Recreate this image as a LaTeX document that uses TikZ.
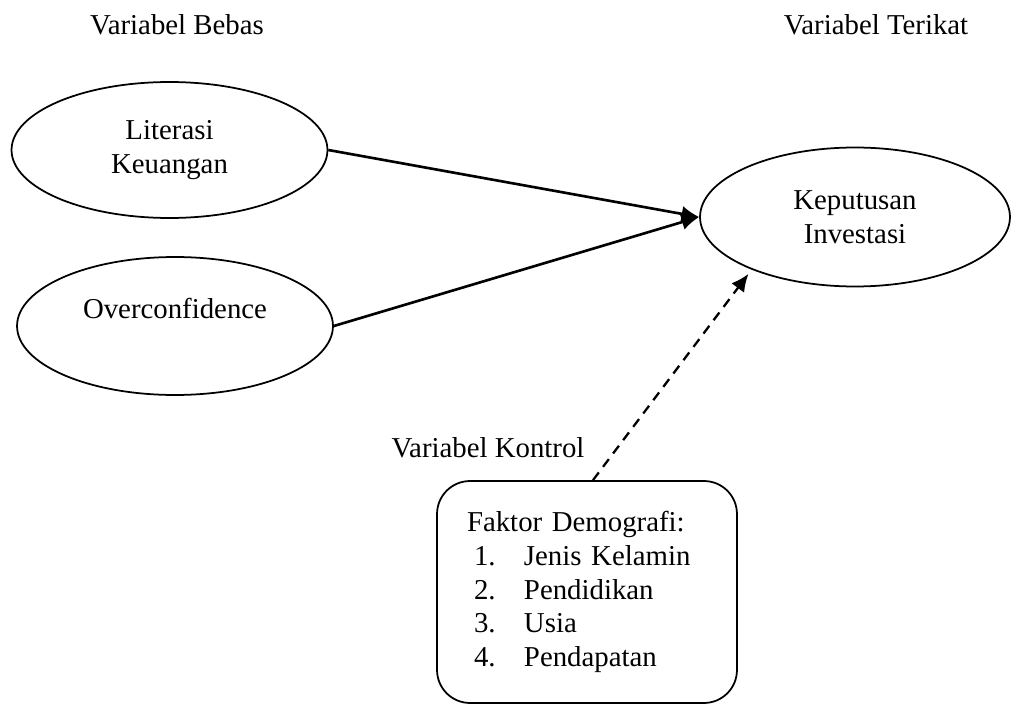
\documentclass[tikz,border=0pt]{standalone}
\usepackage{fontspec}
\setmainfont{Liberation Serif}
\usetikzlibrary{shapes.geometric, arrows.meta}
\newcommand{\demoitem}[2]{\hspace*{0.14cm}\makebox[1cm][l]{#1}#2}
\begin{document}
\begin{tikzpicture}[>={Latex[length=10pt,width=9pt]}, x=0.02cm, y=-0.02cm, font=\fontsize{16.4}{19.6}\selectfont,
    var/.style={draw, ellipse, line width=1pt, inner sep=0pt, align=center},
    demobox/.style={draw, rectangle, rounded corners=0.66cm, line width=1pt, minimum width=6cm, minimum height=4.44cm, text width=4.8cm, align=left, font=\fontsize{16.4}{19.3}\selectfont}]
\useasboundingbox (0,0) rectangle (1011,706);
\node[anchor=base](bebas) at (177,35){Variabel Bebas};
\node[anchor=base](terikat) at (876,35){Variabel Terikat};
\node[var, minimum width=6.32cm, minimum height=2.72cm](lit) at (169.5,150){Literasi\\Keuangan};
\node[var, minimum width=6.32cm, minimum height=2.76cm](over) at (175,326){Overconfidence\\~};
\node[var, minimum width=6.2cm, minimum height=2.78cm](kep) at (855,217){Keputusan\\Investasi};
\node[anchor=base](kontrol) at (488,457){Variabel Kontrol};
\node[demobox](demo) at (587,592){Faktor Demografi:\\
    \demoitem{1.}{Jenis Kelamin}\\
    \demoitem{2.}{Pendidikan}\\
    \demoitem{3.}{Usia}\\
    \demoitem{4.}{Pendapatan}};
\draw[->, line width=1.5pt](lit.east)--(kep.west);
\draw[->, line width=1.5pt](over.east)--(kep.west);
\draw[->, line width=1.3pt, dash pattern=on 5.5pt off 4pt, shorten >=3pt]([xshift=0.12cm]demo.north)--(kep.207);
\end{tikzpicture}
\end{document}
